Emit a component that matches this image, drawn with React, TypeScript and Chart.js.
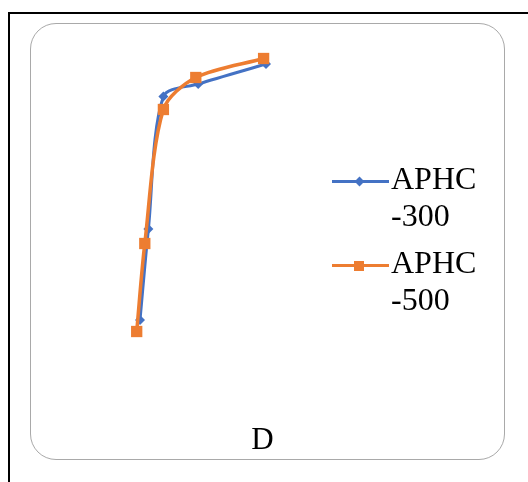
import React, { useEffect, useRef } from "react";
import { Chart, registerables } from "chart.js";

Chart.register(...registerables);

// Series names (legend)
const seriesNames = ["APHC-300", "APHC-500"];
const seriesColors = ["#4472C4", "#ED7D31"];

// APHC-300 series
const aphc300X = [5.0, 6.4, 8.9, 14.7, 26.0];
const aphc300Y = [4.0, 22.2, 48.7, 51.2, 55.2];

// APHC-500 series
const aphc500X = [4.45, 5.8, 8.9, 14.3, 25.6];
const aphc500Y = [1.7, 19.3, 46.1, 52.5, 56.3];

const chartTitle = "D";

const FONT = "'Liberation Serif', 'Times New Roman', serif";

function toPoints(xs: number[], ys: number[]) {
  return xs.map((x, i) => ({ x, y: ys[i] }));
}

function LegendItem({
  name,
  color,
  marker,
  top,
}: {
  name: string;
  color: string;
  marker: "diamond" | "square";
  top: number;
}) {
  const idx = name.indexOf("-");
  const first = name.slice(0, idx);
  const second = name.slice(idx);
  const lineY = top + 21.5;
  return (
    <>
      <div
        style={{
          position: "absolute",
          left: 332,
          top: lineY - 1.5,
          width: 57,
          height: 3,
          background: color,
        }}
      />
      {marker === "diamond" ? (
        <div
          style={{
            position: "absolute",
            left: 359 - 3.5,
            top: lineY - 3.5,
            width: 7,
            height: 7,
            background: color,
            transform: "rotate(45deg)",
          }}
        />
      ) : (
        <div
          style={{
            position: "absolute",
            left: 359 - 5,
            top: lineY - 4.5,
            width: 10,
            height: 10,
            background: color,
          }}
        />
      )}
      <div
        style={{
          position: "absolute",
          left: 391,
          top: top,
          fontFamily: FONT,
          fontSize: 32,
          lineHeight: "37px",
          color: "#000",
          whiteSpace: "nowrap",
        }}
      >
        <div>{first}</div>
        <div>{second}</div>
      </div>
    </>
  );
}

export default function App() {
  const canvasRef = useRef<HTMLCanvasElement | null>(null);

  useEffect(() => {
    if (!canvasRef.current) return;
    const chart = new Chart(canvasRef.current, {
      type: "line",
      data: {
        datasets: [
          {
            label: seriesNames[0],
            data: toPoints(aphc300X, aphc300Y),
            borderColor: seriesColors[0],
            backgroundColor: seriesColors[0],
            borderWidth: 3,
            pointStyle: "rectRot",
            pointRadius: 5,
            pointBorderWidth: 0,
            tension: 0.3,
            fill: false,
            order: 1,
            clip: false,
          },
          {
            label: seriesNames[1],
            data: toPoints(aphc500X, aphc500Y),
            borderColor: seriesColors[1],
            backgroundColor: seriesColors[1],
            borderWidth: 3.5,
            pointStyle: "rect",
            pointRadius: 8,
            pointBorderWidth: 0,
            tension: 0.3,
            fill: false,
            order: 0,
            clip: false,
          },
        ],
      },
      options: {
        animation: false,
        responsive: false,
        layout: {
          padding: { left: 110, right: 238, top: 40, bottom: 142 },
        },
        scales: {
          x: { type: "linear", min: 0, max: 30, display: false },
          y: { type: "linear", min: 0, max: 60, display: false },
        },
        plugins: {
          legend: { display: false },
          title: { display: false },
          tooltip: { enabled: false },
        },
      },
    });
    return () => chart.destroy();
  }, []);

  return (
    <div
      style={{
        position: "fixed",
        left: 0,
        top: 0,
        width: 528,
        height: 482,
        overflow: "hidden",
        background: "#fff",
      }}
    >
      <div
        style={{
          position: "absolute",
          left: 8,
          top: 12,
          width: 520,
          height: 470,
          borderTop: "2px solid #000",
          borderLeft: "2px solid #000",
          boxSizing: "border-box",
        }}
      />
      <div
        style={{
          position: "absolute",
          left: 30,
          top: 23,
          width: 475,
          height: 437,
          border: "1.5px solid #a9a9a9",
          borderRadius: 26,
          boxSizing: "border-box",
        }}
      />
      <canvas
        ref={canvasRef}
        width={528}
        height={482}
        style={{ position: "absolute", left: 0, top: 0, width: 528, height: 482 }}
      />
      <LegendItem name={seriesNames[0]} color={seriesColors[0]} marker="diamond" top={160} />
      <LegendItem name={seriesNames[1]} color={seriesColors[1]} marker="square" top={244} />
      <div
        style={{
          position: "absolute",
          left: 262.5,
          top: 420,
          transform: "translateX(-50%)",
          fontFamily: FONT,
          fontSize: 31,
          lineHeight: "37px",
          color: "#000",
          whiteSpace: "nowrap",
        }}
      >
        {chartTitle}
      </div>
    </div>
  );
}
